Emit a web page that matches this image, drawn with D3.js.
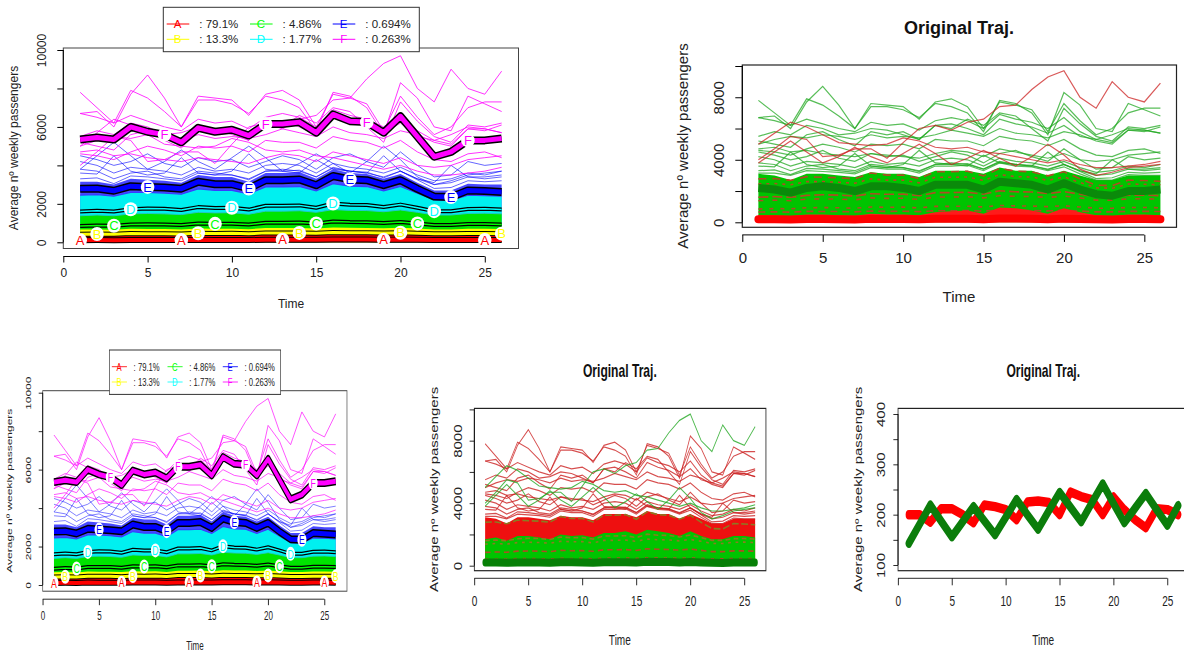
<!DOCTYPE html>
<html>
<head>
<meta charset="utf-8">
<script src="https://cdn.jsdelivr.net/npm/d3@7/dist/d3.min.js"></script>
<style>
  body { margin: 0; background: #fff; }
  text { font-family: "Liberation Sans", Arial, sans-serif; }
</style>
</head>
<body>
<svg id="chart" width="1184" height="655"></svg>
<script>
'use strict';

const times = [1,2,3,4,5,6,7,8,9,10,11,12,13,14,15,16,17,18,19,20,21,22,23,24,25,26];

// cluster means (kml plots)
const meanA = [110,115,110,125,120,120,115,130,125,125,120,135,135,135,130,145,140,140,130,140,130,115,115,125,125,120];
const meanB = [420,430,420,460,450,450,430,470,460,470,440,490,490,490,470,510,500,495,480,500,470,440,440,460,460,450];
const meanC = [850,880,860,930,940,930,900,980,960,970,920,1020,1020,1030,980,1080,1050,1040,1000,1060,980,900,900,950,950,930];
const meanD = [1600,1640,1600,1720,1760,1740,1680,1830,1790,1800,1700,1900,1900,1920,1800,2020,1950,1940,1840,1960,1800,1620,1620,1730,1740,1700];
const meanE = [2780,2800,2680,2920,2880,2850,2790,3150,3020,3020,2800,3230,3230,3270,2970,3450,3270,3230,2970,3230,2780,2380,2350,2700,2670,2620];
const meanF = [5350,5450,5350,6000,5750,5600,5200,5950,5750,5850,5550,6150,6150,6250,5700,6650,6300,6250,5700,6550,5500,4450,4700,5300,5300,5400];

// upper edges of the dense bundles (kml plots)
const yellowTop = [660,670,650,700,690,690,670,720,700,710,680,740,740,750,720,770,760,750,730,760,720,670,670,700,700,690];
const greenTop = [1380,1420,1380,1480,1500,1480,1440,1560,1530,1540,1460,1620,1620,1640,1560,1700,1660,1650,1590,1680,1560,1420,1420,1500,1510,1480];
const cyanTop = [2450,2480,2400,2600,2600,2560,2500,2780,2700,2700,2520,2880,2880,2900,2680,3050,2920,2900,2680,2900,2550,2200,2180,2450,2430,2400];
const blueTop = [3150,3150,3000,3300,3250,3200,3100,3500,3400,3400,3150,3600,3600,3650,3300,3800,3600,3550,3300,3550,3100,2700,2700,3050,3000,3000];

// individual high trajectories
const L1 = [7800,7000,6200,7900,7500,6800,6000,7600,7500,7400,6600,7700,7900,7400,6000,7700,7500,7200,5800,7600,6500,5600,6000,7000,7300,7300];
const L2 = [6700,6800,6000,7700,8700,7500,6000,7400,7400,7200,6700,7600,7400,7000,5800,7800,7600,7000,5600,8300,7500,6000,5800,7600,7200,6800];
const L3 = [5500,5800,5600,6200,6000,5600,5700,6000,5900,5600,5300,6200,6000,6600,6200,7000,6800,6000,5200,7300,6300,5500,5200,6100,6000,6200];
const L4 = [5000,5300,5500,5400,5600,5500,5300,5600,5400,5500,5400,5600,5900,5700,5500,6000,5700,5600,5400,5800,5600,5200,5000,5900,5900,5700];
const L5 = [4000,4700,5500,5300,4200,4300,4700,4700,4100,5100,6000,6200,5900,6400,6600,7400,7500,8500,9300,9700,8000,7300,9000,8000,7700,8900];
const L6 = [5000,5700,6400,6100,5600,5100,5000,4900,5000,5400,5200,4800,4700,4800,4500,4400,4200,4000,3800,4000,3700,3500,3500,3600,3700,3900];
const L7 = [3800,4500,5200,4500,3800,4200,4800,4200,3800,4400,5000,4400,3700,4100,4600,4100,3600,4200,5000,4300,3400,3000,3200,3500,3600,3700];
const L8 = [4700,4800,4500,4600,4400,4300,4200,4400,4300,4200,4100,4400,4600,4500,4200,4700,4500,4300,4100,4400,4000,3900,4000,4300,4400,4500];
const L9 = [4500,4300,4000,4200,4600,4100,3900,4400,4200,4300,3900,4200,4500,4300,3800,4400,4600,4200,3900,4700,4000,3400,3500,4200,4000,4100];
const L10 = [4200,4000,3600,3900,3800,3700,3500,3900,3700,3800,3600,4000,4100,4000,3600,4100,3900,3800,3600,3900,3500,3200,3300,3600,3500,3700];
const L11 = [3800,3700,3300,3600,3700,3400,3300,3700,3600,3500,3300,3700,3800,3700,3400,3900,3700,3600,3400,3700,3300,3000,3100,3400,3400,3500];
const L12 = [5200,5000,4800,5600,5800,5300,4900,5800,5600,5800,5300,6200,6300,6000,5600,6600,6300,6100,5700,6200,5500,5300,5100,5900,5800,6100];
const L13 = [6700,6500,6200,6600,6300,6000,5800,6400,6200,6300,5900,6500,6700,6500,6000,6900,6600,6400,6000,6700,5800,5300,5600,6000,5900,5700];
const L14 = [4600,4500,4300,4700,5000,4800,4500,5000,4900,5000,4700,5300,5200,5200,4900,5500,5300,5200,4900,5300,4700,4300,4200,4600,4700,4400];
const blue1 = [3300,3350,3050,3450,3400,3300,3200,3600,3500,3500,3250,3700,3700,3750,3400,3850,3700,3650,3350,3700,3250,2800,2850,3200,3150,3200];
const blue2 = [3600,3550,4500,3700,3500,3600,4400,3600,3500,3700,4600,3800,3700,3600,4300,3800,3700,3600,4500,3700,3300,3100,4000,3400,3300,3400];

const magentaSet = [L1,L2,L3,L4,L5,L6,L8,L12,L13,L14];
const blueSet = [L7,L9,L10,L11,blue1,blue2];
const oddSet = [L5,L6,L7];                       // red in "Original Traj." top, green below
const mainSet = [L1,L2,L3,L4,L8,L9,L10,L11,L12,L13,L14,blue1,blue2,blueTop];

// original trajectories: two groups
const groupMean = [2200,2100,1900,2200,2300,2200,2000,2300,2300,2200,2000,2400,2400,2400,2100,2600,2500,2400,2100,2500,2100,1800,1700,2000,2000,2100];
const denseTop = [3100,3000,2700,3100,3100,3000,2900,3200,3100,3100,2900,3300,3300,3300,3100,3500,3300,3300,3000,3300,3000,2700,2700,3000,3000,3000];
const lowRedTop = [450,450,400,500,500,450,420,550,500,500,450,650,700,750,550,950,900,750,550,900,650,450,400,500,500,450];
const lowGreenTop = [1700,1800,1600,1900,1900,1800,1700,2000,1900,1950,1800,2100,2100,2200,2000,2300,2200,2100,1900,2200,1900,1700,1700,1900,1900,1800];

// the two group means, zoomed
const redMean = [200,200,185,212,212,200,184,219,216,210,190,225,227,224,200,245,236,230,200,235,210,190,174,212,210,200];
const greenMean = [143,181,219,187,156,186,216,188,160,195,230,200,171,208,244,215,186,224,261,222,184,213,242,210,179,218];

const clusterNames = ['A','B','C','D','E','F'];
const clusterShares = ['79.1%','13.3%','4.86%','1.77%','0.694%','0.263%'];
const clusterColors = ['#ff0000','#ffff00','#00ff00','#00ffff','#0000ff','#ff00ff'];
const clusterMeans = [meanA, meanB, meanC, meanD, meanE, meanF];

const xTicks = [0,5,10,15,20,25];
const yTicksBig = [0,2000,4000,6000,8000,10000];
const yLabelsKml = [0,2000,6000,10000];
const yLabelsTraj = [0,4000,8000];
const yTicksZoom = [100,150,200,250,300,350,400];
const yLabelsZoom = [100,200,300,400];

const FONT = '"Liberation Sans", Arial, sans-serif';
const dashes = ['7,5', '4,7', '10,4', '5,9', '8,6', '3,5'];
const svg = d3.select('#chart');

function drawAxes(g, x, y, o) {
  const xa = g.append('g')
    .attr('transform', `translate(0,${o.xAxisY})`)
    .call(d3.axisBottom(x).tickValues(xTicks).tickSize(o.tick).tickPadding(o.xPad));
  xa.select('.domain').remove();
  xa.append('line')
    .attr('x1', x(xTicks[0])).attr('x2', x(xTicks[xTicks.length - 1]))
    .attr('stroke', '#000');
  xa.attr('font-size', o.font).attr('font-family', FONT);
  xa.selectAll('text').attr('fill', '#222');

  const ya = g.append('g')
    .attr('transform', `translate(${o.yAxisX},0)`)
    .call(d3.axisLeft(y).tickValues(o.yTicks).tickSize(o.tick)
      .tickFormat(d => o.yLabels.includes(d) ? d : ''));
  ya.select('.domain').remove();
  ya.append('line')
    .attr('y1', y(o.yTicks[0])).attr('y2', y(o.yTicks[o.yTicks.length - 1]))
    .attr('stroke', '#000');
  ya.attr('font-size', o.font).attr('font-family', FONT);
  ya.selectAll('text')
    .attr('fill', '#222')
    .attr('x', 0).attr('dy', null)
    .attr('y', -(o.yAxisX - o.yLabBase))
    .attr('text-anchor', 'middle')
    .attr('transform', 'rotate(-90)');

  g.append('text')
    .attr('transform', `translate(${o.yTitleX},${o.yTitleY}) rotate(-90)`)
    .attr('text-anchor', 'middle')
    .attr('font-size', o.font)
    .attr('fill', '#222')
    .text('Average nº weekly passengers');

  g.append('text')
    .attr('x', o.timeX).attr('y', o.timeY)
    .attr('text-anchor', 'middle')
    .attr('font-size', o.font)
    .attr('fill', '#222')
    .text('Time');
}

// kml cluster plot
function kmlPanel(g) {
  const x = d3.scaleLinear().domain([0, 27]).range([63.3, 518.5]);
  const y = d3.scaleLinear().domain([0, 10000]).range([242.3, 50]);
  const line = d3.line().x((d, i) => x(times[i])).y(d => y(d));
  const band = d3.area().x((d, i) => x(times[i])).y0(y(0)).y1(d => y(d));
  const thin = (d, c, op, w) => g.append('path').attr('d', line(d)).attr('fill', 'none')
    .attr('stroke', c).attr('stroke-opacity', op).attr('stroke-width', w);

  // dense bundles, painted top down
  g.append('path').attr('d', band(blueTop)).attr('fill', '#2020ff').attr('fill-opacity', 0.82);
  [[cyanTop, '#00f0f0'], [greenTop, '#00e400'],
   [yellowTop, '#ffff00'], [meanB, '#ff0000']].forEach(([d, c]) => {
    g.append('path').attr('d', band(d)).attr('fill', c);
  });

  // streaks inside the bundles
  thin(cyanTop, '#3a3aff', 1, 1.2);
  thin(meanE, '#9ad8ff', 0.9, 1);
  thin(greenTop, '#20c8c8', 1, 1);
  thin(meanC, '#b8ff40', 0.9, 1);

  blueSet.forEach(d => thin(d, '#0000ff', 0.6, 1));
  magentaSet.forEach(d => thin(d, '#ff00ff', 0.8, 1));

  // means with black outline
  const outer = [6, 5, 4, 4, 8, 8];
  const inner = [4, 3, 1.5, 1.5, 5, 5];
  clusterMeans.forEach((m, k) => {
    g.append('path').attr('d', line(m)).attr('fill', 'none')
      .attr('stroke', '#000').attr('stroke-width', outer[k]).attr('stroke-linejoin', 'round');
    g.append('path').attr('d', line(m)).attr('fill', 'none')
      .attr('stroke', clusterColors[k]).attr('stroke-width', inner[k]).attr('stroke-linejoin', 'round');
  });

  // letters every 6 steps
  clusterMeans.forEach((m, k) => {
    times.filter(t => (t - 1 - k) % 6 === 0 && t > k).forEach(t => {
      const lg = g.append('g').attr('transform', `translate(${x(t)},${y(m[t - 1])})`);
      lg.append('ellipse').attr('rx', 6.8).attr('ry', 7).attr('fill', '#fff');
      lg.append('text').attr('text-anchor', 'middle').attr('dy', '0.36em')
        .attr('font-size', 13).attr('fill', clusterColors[k]).text(clusterNames[k]);
    });
  });

  // plot box
  g.append('rect').attr('x', 63.3).attr('y', 48).attr('width', 518.5 - 63.3).attr('height', 248.5 - 48)
    .attr('fill', 'none').attr('stroke', '#444').attr('stroke-width', 1);

  drawAxes(g, x, y, {
    xAxisY: 256.5, yAxisX: 63.3, tick: 6, xPad: 6, font: 12,
    yTicks: yTicksBig, yLabels: yLabelsKml, yLabBase: 46,
    yTitleX: 17.5, yTitleY: 148, timeX: 291, timeY: 307.5
  });

  // legend
  const lg = g.append('g');
  lg.append('rect').attr('x', 163.3).attr('y', 7.3).attr('width', 256).attr('height', 44.4)
    .attr('fill', '#fff').attr('stroke', '#333');
  const colX = [166.7, 250, 332.7];
  const rowY = [24, 39.3];
  clusterNames.forEach((n, k) => {
    const cx = colX[Math.floor(k / 2)], cy = rowY[k % 2];
    lg.append('line').attr('x1', cx).attr('x2', cx + 22.6).attr('y1', cy).attr('y2', cy)
      .attr('stroke', clusterColors[k]).attr('stroke-width', 1);
    lg.append('text').attr('x', cx + 11).attr('y', cy).attr('dy', '0.36em')
      .attr('text-anchor', 'middle').attr('font-size', 11.5).attr('fill', clusterColors[k]).text(n);
    lg.append('text').attr('x', cx + 32.6).attr('y', cy).attr('dy', '0.36em')
      .attr('font-size', 11.5).attr('fill', '#222').text(': ' + clusterShares[k]);
  });
}

// original trajectories, two colourings
function trajPanel(g, flip) {
  const x = d3.scaleLinear().domain([0, 27]).range([742.3, 1176.5]);
  const y = d3.scaleLinear().domain([0, 10000]).range([222.3, 66]);
  const line = d3.line().x((d, i) => x(times[i])).y(d => y(d));
  const band = d3.area().x((d, i) => x(times[i])).y0(y(0)).y1(d => y(d));
  const thin = (d, c, op) => g.append('path').attr('d', line(d)).attr('fill', 'none')
    .attr('stroke', c).attr('stroke-opacity', op).attr('stroke-width', 1.2);
  const dashed = (d, c, k) => g.append('path').attr('d', line(d)).attr('fill', 'none')
    .attr('stroke', c).attr('stroke-width', 1.6).attr('stroke-dasharray', dashes[k % dashes.length]);

  if (!flip) {
    g.append('path').attr('d', band(denseTop)).attr('fill', '#00c400');
    [yellowTop, meanC, meanD, greenTop, meanE, cyanTop].forEach((d, k) => dashed(d, '#b04a24', k));
    mainSet.forEach(d => thin(d, '#22a822', 0.75));
    oddSet.forEach(d => thin(d, '#cc2222', 0.75));
    g.append('path').attr('d', band(lowRedTop)).attr('fill', '#ff1a1a');
    g.append('path').attr('d', line(redMean)).attr('fill', 'none')
      .attr('stroke', '#ff0000').attr('stroke-width', 8).attr('stroke-linecap', 'round');
    g.append('path').attr('d', line(groupMean)).attr('fill', 'none')
      .attr('stroke', '#0a8a0a').attr('stroke-width', 8).attr('stroke-linejoin', 'round');
  } else {
    g.append('path').attr('d', band(denseTop)).attr('fill', '#ee1010');
    mainSet.forEach(d => thin(d, '#cc2222', 0.8));
    g.append('path').attr('d', band(lowGreenTop)).attr('fill', '#00c400');
    [meanD, greenTop, meanE].forEach((d, k) => dashed(d, '#8c7a22', k));
    [meanB, meanC].forEach((d, k) => dashed(d, '#b04a24', k + 3));
    oddSet.forEach(d => thin(d, '#22a822', 0.8));
    g.append('path').attr('d', line(redMean)).attr('fill', 'none')
      .attr('stroke', '#078007').attr('stroke-width', 8).attr('stroke-linecap', 'round');
  }

  g.append('rect').attr('x', 742.3).attr('y', 65).attr('width', 1176.5 - 742.3).attr('height', 227.3 - 65)
    .attr('fill', 'none').attr('stroke', '#222').attr('stroke-width', 1.2);

  g.append('text').attr('x', 959).attr('y', 33.5).attr('text-anchor', 'middle')
    .attr('font-size', 18).attr('font-weight', 'bold').attr('fill', '#111').text('Original Traj.');

  drawAxes(g, x, y, {
    xAxisY: 234.9, yAxisX: 742.3, tick: 7, xPad: 10, font: 15,
    yTicks: yTicksBig, yLabels: yLabelsTraj, yLabBase: 723.5,
    yTitleX: 688, yTitleY: 146, timeX: 959, timeY: 302
  });
}

// the two group means, zoomed in
function meansPanel(g) {
  const x = d3.scaleLinear().domain([0, 27]).range([742.3, 1176.5]);
  const y = d3.scaleLinear().domain([100, 400]).range([221.6, 70.6]);
  const line = d3.line().x((d, i) => x(times[i])).y(d => y(d));

  g.append('path').attr('d', line(redMean)).attr('fill', 'none')
    .attr('stroke', '#ff0000').attr('stroke-width', 9.5).attr('stroke-linejoin', 'round').attr('stroke-linecap', 'round');
  g.append('path').attr('d', line(greenMean)).attr('fill', 'none')
    .attr('stroke', '#0b7d0b').attr('stroke-width', 9.5).attr('stroke-linejoin', 'round').attr('stroke-linecap', 'round');

  g.append('rect').attr('x', 742.3).attr('y', 65).attr('width', 1176.5 - 742.3).attr('height', 227.3 - 65)
    .attr('fill', 'none').attr('stroke', '#222').attr('stroke-width', 1.2);

  g.append('text').attr('x', 959).attr('y', 33.5).attr('text-anchor', 'middle')
    .attr('font-size', 18).attr('font-weight', 'bold').attr('fill', '#111').text('Original Traj.');

  drawAxes(g, x, y, {
    xAxisY: 234.9, yAxisX: 742.3, tick: 7, xPad: 10, font: 15,
    yTicks: yTicksZoom, yLabels: yLabelsZoom, yLabBase: 723.5,
    yTitleX: 688, yTitleY: 146, timeX: 959, timeY: 302
  });
}

kmlPanel(svg.append('g'));
kmlPanel(svg.append('g').attr('transform', 'translate(0.41,342.7) scale(0.6684,1)'));
trajPanel(svg.append('g'), false);
trajPanel(svg.append('g').attr('transform', 'translate(-24.2,343.4) scale(0.6716,1)'), true);
meansPanel(svg.append('g').attr('transform', 'translate(400.7,343.4) scale(0.67,1)'));
</script>
</body>
</html>
